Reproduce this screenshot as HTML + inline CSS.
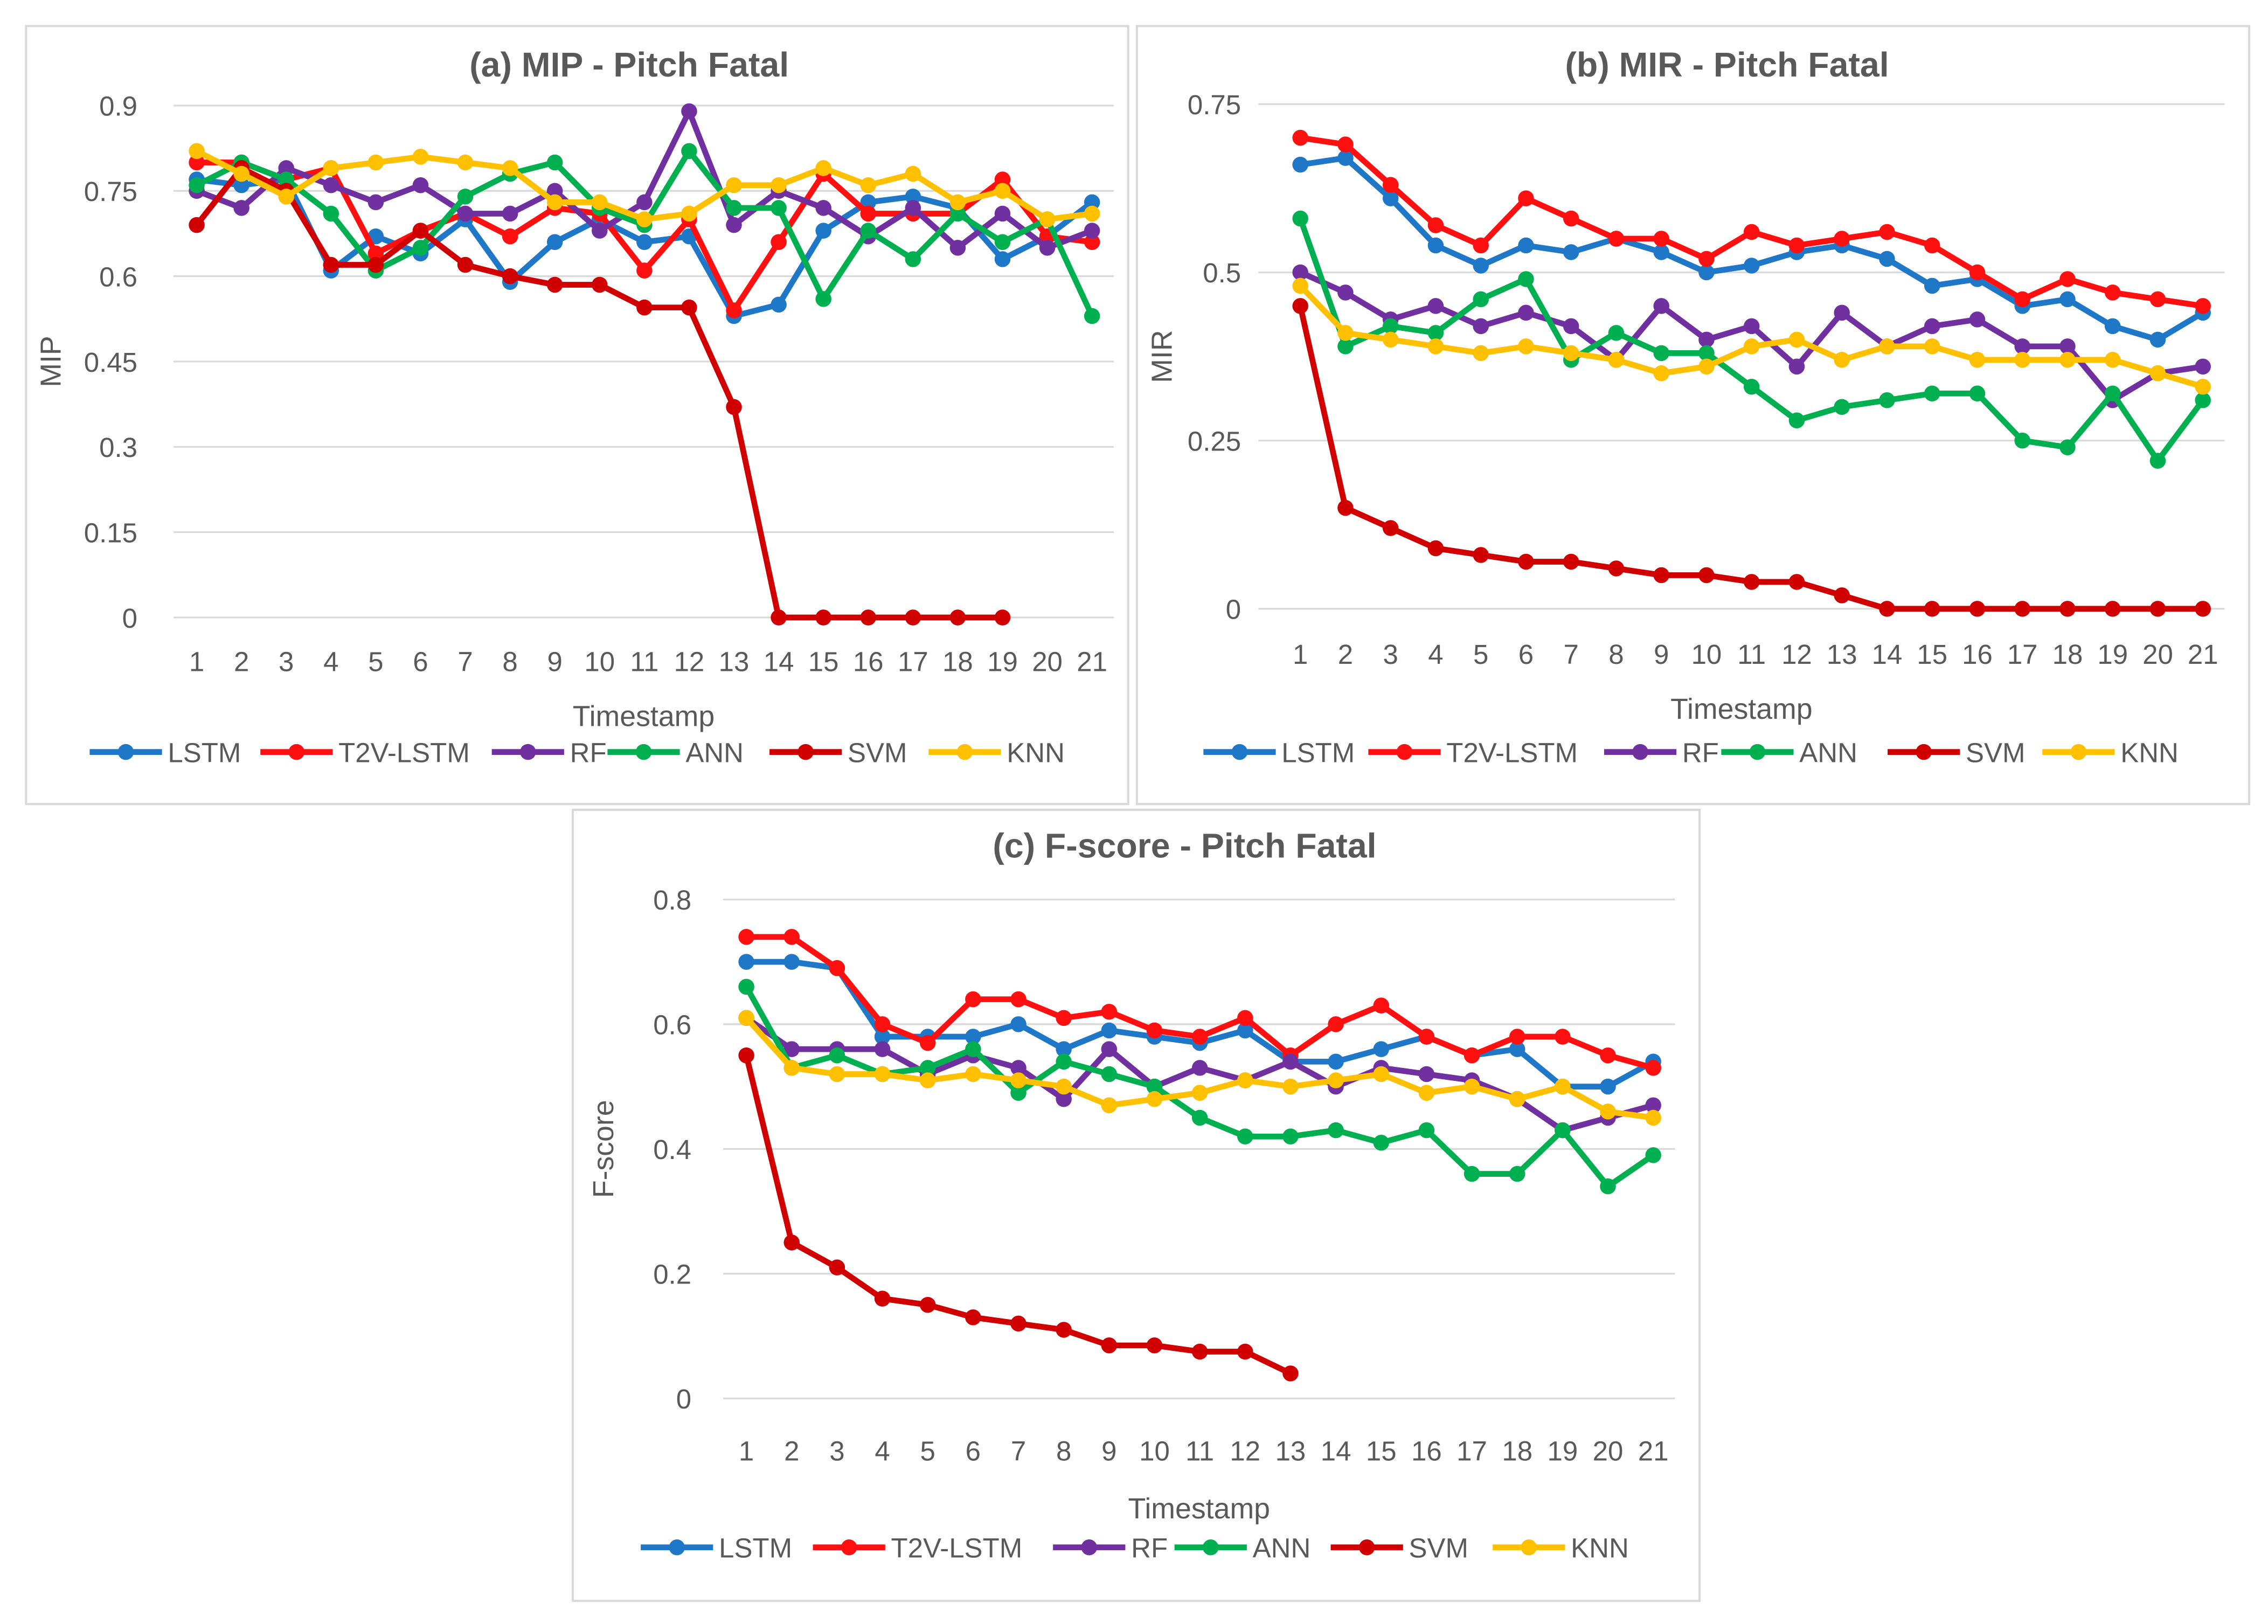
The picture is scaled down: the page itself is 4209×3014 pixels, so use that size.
<!DOCTYPE html>
<html><head><meta charset="utf-8"><style>
html,body{margin:0;padding:0;background:#fff;}
svg{display:block;}
text{font-family:"Liberation Sans",sans-serif;fill:#595959;}
</style></head><body>
<svg id="chart" width="4209" height="3014" viewBox="0 0 1568 1123" preserveAspectRatio="none" xmlns="http://www.w3.org/2000/svg">
<rect x="0" y="0" width="1568" height="1123" fill="#fff"/>
</svg>
<script>
const categories=[1,2,3,4,5,6,7,8,9,10,11,12,13,14,15,16,17,18,19,20,21];
const seriesNames=["LSTM","T2V-LSTM","RF","ANN","SVM","KNN"];
const seriesColors=["#1F77C8","#FF1010","#7030A0","#00B050","#D00000","#FFC000"];
// (a) MIP
const mipLSTM=[0.77,0.76,0.77,0.61,0.67,0.64,0.70,0.59,0.66,0.70,0.66,0.67,0.53,0.55,0.68,0.73,0.74,0.72,0.63,0.67,0.73];
const mipT2V=[0.80,0.80,0.77,0.79,0.64,0.68,0.71,0.67,0.72,0.71,0.61,0.70,0.54,0.66,0.78,0.71,0.71,0.71,0.77,0.67,0.66];
const mipRF=[0.75,0.72,0.79,0.76,0.73,0.76,0.71,0.71,0.75,0.68,0.73,0.89,0.69,0.75,0.72,0.67,0.72,0.65,0.71,0.65,0.68];
const mipANN=[0.76,0.80,0.77,0.71,0.61,0.65,0.74,0.78,0.80,0.72,0.69,0.82,0.72,0.72,0.56,0.68,0.63,0.71,0.66,0.70,0.53];
const mipSVM=[0.69,0.79,0.75,0.62,0.62,0.68,0.62,0.60,0.585,0.585,0.545,0.545,0.37,0,0,0,0,0,0];
const mipKNN=[0.82,0.78,0.74,0.79,0.80,0.81,0.80,0.79,0.73,0.73,0.70,0.71,0.76,0.76,0.79,0.76,0.78,0.73,0.75,0.70,0.71];
const mipTicks=["0","0.15","0.3","0.45","0.6","0.75","0.9"];
// (b) MIR
const mirLSTM=[0.66,0.67,0.61,0.54,0.51,0.54,0.53,0.55,0.53,0.50,0.51,0.53,0.54,0.52,0.48,0.49,0.45,0.46,0.42,0.40,0.44];
const mirT2V=[0.70,0.69,0.63,0.57,0.54,0.61,0.58,0.55,0.55,0.52,0.56,0.54,0.55,0.56,0.54,0.50,0.46,0.49,0.47,0.46,0.45];
const mirRF=[0.50,0.47,0.43,0.45,0.42,0.44,0.42,0.37,0.45,0.40,0.42,0.36,0.44,0.39,0.42,0.43,0.39,0.39,0.31,0.35,0.36];
const mirANN=[0.58,0.39,0.42,0.41,0.46,0.49,0.37,0.41,0.38,0.38,0.33,0.28,0.30,0.31,0.32,0.32,0.25,0.24,0.32,0.22,0.31];
const mirSVM=[0.45,0.15,0.12,0.09,0.08,0.07,0.07,0.06,0.05,0.05,0.04,0.04,0.02,0,0,0,0,0,0,0,0];
const mirKNN=[0.48,0.41,0.40,0.39,0.38,0.39,0.38,0.37,0.35,0.36,0.39,0.40,0.37,0.39,0.39,0.37,0.37,0.37,0.37,0.35,0.33];
const mirTicks=["0","0.25","0.5","0.75"];
// (c) F-score
const fLSTM=[0.70,0.70,0.69,0.58,0.58,0.58,0.60,0.56,0.59,0.58,0.57,0.59,0.54,0.54,0.56,0.58,0.55,0.56,0.50,0.50,0.54];
const fT2V=[0.74,0.74,0.69,0.60,0.57,0.64,0.64,0.61,0.62,0.59,0.58,0.61,0.55,0.60,0.63,0.58,0.55,0.58,0.58,0.55,0.53];
const fRF=[0.61,0.56,0.56,0.56,0.52,0.55,0.53,0.48,0.56,0.50,0.53,0.51,0.54,0.50,0.53,0.52,0.51,0.48,0.43,0.45,0.47];
const fANN=[0.66,0.53,0.55,0.52,0.53,0.56,0.49,0.54,0.52,0.50,0.45,0.42,0.42,0.43,0.41,0.43,0.36,0.36,0.43,0.34,0.39];
const fSVM=[0.55,0.25,0.21,0.16,0.15,0.13,0.12,0.11,0.085,0.085,0.075,0.075,0.04];
const fKNN=[0.61,0.53,0.52,0.52,0.51,0.52,0.51,0.50,0.47,0.48,0.49,0.51,0.50,0.51,0.52,0.49,0.50,0.48,0.50,0.46,0.45];
const fTicks=["0","0.2","0.4","0.6","0.8"];

const NS="http://www.w3.org/2000/svg";
const svg=document.getElementById('chart');
function mk(tag,attrs,parent){const e=document.createElementNS(NS,tag);for(const k in attrs)e.setAttribute(k,attrs[k]);(parent||svg).appendChild(e);return e;}

const panels=[
 {key:'a',title:'(a) MIP - Pitch Fatal',ylab:'MIP',box:[18,18,762,538],gx0:120,gx1:770,x1:136,x21:755,yTop:73,yBot:427,ymax:0.9,ticks:mipTicks,tickX:95,xlabY:457,tsY:495,legY:520,titleY:45,ylabX:42,
  series:[mipLSTM,mipT2V,mipRF,mipANN,mipSVM,mipKNN],leg:[62,180,340,420,532,642]},
 {key:'b',title:'(b) MIR - Pitch Fatal',ylab:'MIR',box:[786,18,769,538],gx0:870,gx1:1538,x1:899,x21:1523,yTop:72,yBot:421,ymax:0.75,ticks:mirTicks,tickX:858,xlabY:452,tsY:490,legY:520,titleY:45,ylabX:810,
  series:[mirLSTM,mirT2V,mirRF,mirANN,mirSVM,mirKNN],leg:[832,946,1109,1190,1305,1412]},
 {key:'c',title:'(c) F-score - Pitch Fatal',ylab:'F-score',box:[396,560,779,547],gx0:500,gx1:1158,x1:516,x21:1143,yTop:622,yBot:967,ymax:0.8,ticks:fTicks,tickX:478,xlabY:1003,tsY:1043,legY:1070,titleY:585,ylabX:424,
  series:[fLSTM,fT2V,fRF,fANN,fSVM,fKNN],leg:[443,562,728,812,920,1032]}
];

panels.forEach(p=>{
  const g=mk('g',{});
  
  
  const b=mk('rect',{x:p.box[0],y:p.box[1],width:p.box[2],height:p.box[3],fill:'#fff',stroke:'#d9d9d9','stroke-width':1.5},g);
  
  
  const xs=i=>p.x1+(p.x21-p.x1)*i/20;
  const ys=v=>p.yBot-(p.yBot-p.yTop)*v/p.ymax;
  const t=mk('text',{x:(p.gx0+p.gx1)/2-10,y:p.titleY+8,'text-anchor':'middle','font-size':24,'font-weight':'bold'},g);
  t.textContent=p.title;
  
  
  p.ticks.forEach(tk=>{
    const v=parseFloat(tk);
    const ln=mk('line',{x1:p.gx0,x2:p.gx1,y1:ys(v),y2:ys(v),stroke:'#d9d9d9','stroke-width':1.2},g);
    
    
    const tt=mk('text',{x:p.tickX,y:ys(v)+7,'text-anchor':'end','font-size':19},g);
    tt.textContent=tk;
    
    
  });
  categories.forEach((c,i)=>{
    const tt=mk('text',{x:xs(i),y:p.xlabY+7,'text-anchor':'middle','font-size':19},g);
    tt.textContent=c;
    
    
  });
  const xt=mk('text',{x:(p.gx0+p.gx1)/2,y:p.tsY+7,'text-anchor':'middle','font-size':20},g);
  xt.textContent='Timestamp';
  
  
  const yt=mk('text',{x:p.ylabX,y:(p.yTop+p.yBot)/2,'text-anchor':'middle','font-size':20,transform:`rotate(-90 ${p.ylabX} ${(p.yTop+p.yBot)/2})`},g);
  yt.textContent=p.ylab;
  
  
  p.series.forEach((arr,si)=>{
    const col=seriesColors[si];
    const pl=mk('polyline',{points:arr.map((v,i)=>xs(i)+','+ys(v)).join(' '),fill:'none',stroke:col,'stroke-width':4,'stroke-linejoin':'round'},g);
    
    
    arr.forEach((v,i)=>{
      const c=mk('circle',{cx:xs(i),cy:ys(v),r:5.5,fill:col},g);
      
      
    });
  });
  seriesNames.forEach((n,si)=>{
    const lx=p.leg[si];
    const lg=mk('g',{},g);
    
    
    mk('line',{x1:lx,x2:lx+50,y1:p.legY,y2:p.legY,stroke:seriesColors[si],'stroke-width':4},lg);
    mk('circle',{cx:lx+25,cy:p.legY,r:5.5,fill:seriesColors[si]},lg);
    const lt=mk('text',{x:lx+54,y:p.legY+7,'font-size':19},lg);
    lt.textContent=n;
  });
});
</script>
</body></html>
